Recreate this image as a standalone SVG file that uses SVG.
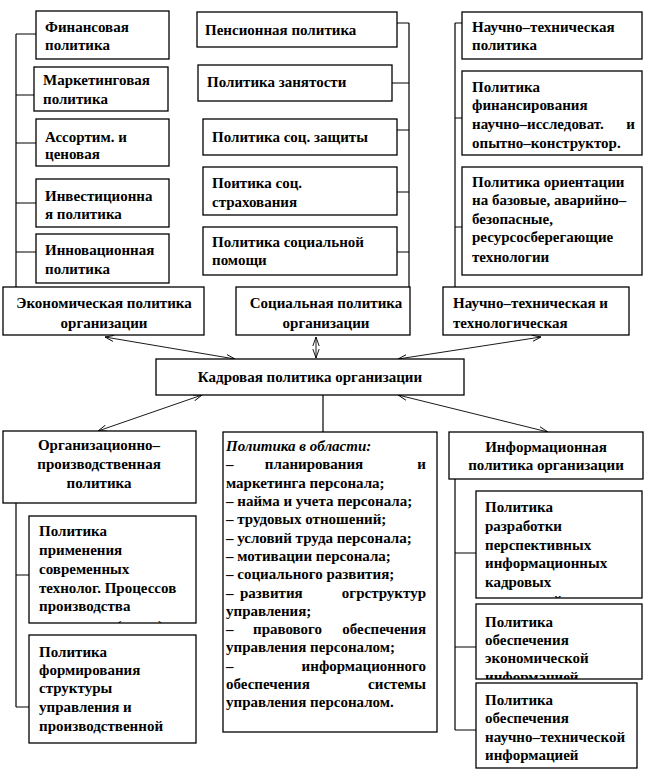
<svg xmlns="http://www.w3.org/2000/svg" width="646" height="771" viewBox="0 0 646 771">
<style>
.b{fill:#fff;stroke:#000;stroke-width:1.3}
.t{font-family:"Liberation Serif","Times New Roman",serif;font-weight:bold;font-size:15px;fill:#000}
.c{text-anchor:middle}
.e{text-anchor:end}
.i{font-style:italic}
.ln{fill:none;stroke:#000;stroke-width:1.2}
.ar{fill:none;stroke:#000;stroke-width:0.9;marker-start:url(#ah);marker-end:url(#ah)}
</style>
<defs>
<marker id="ah" viewBox="0 0 10 10" refX="10" refY="5" markerWidth="9" markerHeight="9" orient="auto-start-reverse" markerUnits="userSpaceOnUse"><path d="M0,1.5 L10,5 L0,8.5" fill="none" stroke="#000" stroke-width="1"/></marker>
<clipPath id="cp1"><rect x="29" y="516" width="167" height="107"/></clipPath>
<clipPath id="cp2"><rect x="476" y="491" width="166" height="107"/></clipPath>
<clipPath id="cp3"><rect x="476" y="604" width="166" height="75"/></clipPath>
</defs>
<rect width="646" height="771" fill="#fff"/>

<g id="connectors">
<path class="ln" d="M16,34V287 M16,34H36 M16,95H34 M16,143H36 M16,203H36 M16,252H36"/>
<path class="ln" d="M409,23V287 M397,23H409 M392,83H409 M397,130H409 M397,192H409 M397,252H409"/>
<path class="ln" d="M455,23V287 M455,23H462 M455,118H462 M455,227H462"/>
<path class="ln" d="M323,395V432"/>
<path class="ln" d="M16,503V707 M16,575H29 M16,707H29"/>
<path class="ln" d="M455,479V730 M455,553H476 M455,647H476 M455,730H476"/>
<line class="ar" x1="105" y1="337" x2="235" y2="359"/>
<line class="ar" x1="316" y1="337" x2="316" y2="358"/>
<line class="ar" x1="541" y1="337" x2="398" y2="359"/>
<line class="ar" x1="202" y1="395" x2="98" y2="431"/>
<line class="ar" x1="398" y1="395" x2="548" y2="432"/>
</g>

<g id="n-fin"><rect class="b" x="36" y="11" width="133" height="48"/><text class="t" x="45" y="32">Финансовая</text><text class="t" x="45" y="50">политика</text></g>
<g id="n-mark"><rect class="b" x="34" y="67" width="134" height="44"/><text class="t" x="43" y="85">Маркетинговая</text><text class="t" x="43" y="104">политика</text></g>
<g id="n-assort"><rect class="b" x="36" y="119" width="133" height="47"/><text class="t" x="45" y="142">Ассортим. и</text><text class="t" x="45" y="159">ценовая</text></g>
<g id="n-invest"><rect class="b" x="36" y="179" width="133" height="48"/><text class="t" x="45" y="201">Инвестиционна</text><text class="t" x="45" y="219">я политика</text></g>
<g id="n-innov"><rect class="b" x="36" y="234" width="133" height="49"/><text class="t" x="45" y="255">Инновационная</text><text class="t" x="45" y="274">политика</text></g>

<g id="n-pens"><rect class="b" x="197" y="12" width="200" height="35"/><text class="t" x="205" y="35">Пенсионная политика</text></g>
<g id="n-zan"><rect class="b" x="198" y="65" width="194" height="36"/><text class="t" x="207" y="87">Политика занятости</text></g>
<g id="n-zasch"><rect class="b" x="203" y="119" width="194" height="36"/><text class="t" x="212" y="142">Политика соц. защиты</text></g>
<g id="n-strah"><rect class="b" x="203" y="167" width="194" height="48"/><text class="t" x="212" y="188">Поитика соц.</text><text class="t" x="212" y="207">страхования</text></g>
<g id="n-pom"><rect class="b" x="203" y="227" width="194" height="48"/><text class="t" x="212" y="247">Политика социальной</text><text class="t" x="212" y="265">помощи</text></g>

<g id="n-ntp"><rect class="b" x="462" y="12" width="180" height="47"/><text class="t" x="472" y="32">Научно–техническая</text><text class="t" x="472" y="50">политика</text></g>
<g id="n-finniokr"><rect class="b" x="462" y="71" width="180" height="84"/><text class="t" x="472" y="92">Политика</text><text class="t" x="472" y="110">финансирования</text><text class="t" x="472" y="129">научно–исследоват.</text><text class="t e" x="635" y="129">и</text><text class="t" x="472" y="148">опытно–конструктор.</text></g>
<g id="n-orient"><rect class="b" x="462" y="167" width="180" height="108"/><text class="t" x="472" y="187">Политика ориентации</text><text class="t" x="472" y="205">на базовые, аварийно–</text><text class="t" x="472" y="224">безопасные,</text><text class="t" x="472" y="242">ресурсосберегающие</text><text class="t" x="472" y="262">технологии</text></g>

<g id="n-econ"><rect class="b" x="3" y="287" width="201" height="48"/><text class="t c" x="104" y="308">Экономическая политика</text><text class="t c" x="104" y="328">организации</text></g>
<g id="n-soc"><rect class="b" x="236" y="287" width="174" height="48"/><text class="t c" x="326" y="308">Социальная политика</text><text class="t c" x="326" y="328">организации</text></g>
<g id="n-nt"><rect class="b" x="443" y="287" width="186" height="48"/><text class="t" x="453" y="308">Научно–техническая и</text><text class="t" x="453" y="328">технологическая</text></g>

<g id="n-kadr"><rect class="b" x="156" y="359" width="308" height="36"/><text class="t c" x="310" y="382">Кадровая политика организации</text></g>

<g id="n-org"><rect class="b" x="3" y="431" width="193" height="72"/><text class="t c" x="99" y="450">Организационно–</text><text class="t c" x="99" y="469">производственная</text><text class="t c" x="99" y="488">политика</text></g>
<g id="n-tech"><rect class="b" x="29" y="516" width="167" height="107"/><g clip-path="url(#cp1)"><text class="t" x="39" y="536">Политика</text><text class="t" x="39" y="555">применения</text><text class="t" x="39" y="574">современных</text><text class="t" x="39" y="593">технолог. Процессов</text><text class="t" x="39" y="611">производства</text><text class="t" x="39" y="631">продукции (услуг)</text></g></g>
<g id="n-struct"><rect class="b" x="29" y="635" width="167" height="108"/><text class="t" x="39" y="657">Политика</text><text class="t" x="39" y="675">формирования</text><text class="t" x="39" y="693">структуры</text><text class="t" x="39" y="712">управления и</text><text class="t" x="39" y="731">производственной</text></g>

<g id="n-area"><rect class="b" x="223" y="432" width="214" height="300"/>
<text class="t i" x="226" y="451">Политика в области:</text>
<text class="t" x="226" y="469">–</text><text class="t c" x="314" y="469">планирования</text><text class="t e" x="426" y="469">и</text>
<text class="t" x="226" y="488">маркетинга персонала;</text>
<text class="t" x="226" y="506">– найма и учета персонала;</text>
<text class="t" x="226" y="524">– трудовых  отношений;</text>
<text class="t" x="226" y="543">– условий труда персонала;</text>
<text class="t" x="226" y="561">– мотивации персонала;</text>
<text class="t" x="226" y="579">– социального развития;</text>
<text class="t" x="226" y="598">–</text><text class="t" x="240" y="598">развития</text><text class="t e" x="426" y="598">огрструктур</text>
<text class="t" x="226" y="616">управления;</text>
<text class="t" x="226" y="634">–</text><text class="t" x="253" y="634">правового</text><text class="t e" x="426" y="634">обеспечения</text>
<text class="t" x="226" y="652">управления персоналом;</text>
<text class="t" x="226" y="671">–</text><text class="t e" x="426" y="671">информационного</text>
<text class="t" x="226" y="689">обеспечения</text><text class="t e" x="426" y="689">системы</text>
<text class="t" x="226" y="707">управления персоналом.</text>
</g>

<g id="n-info"><rect class="b" x="449" y="432" width="194" height="47"/><text class="t c" x="546" y="452">Информационная</text><text class="t c" x="546" y="470">политика организации</text></g>
<g id="n-persp"><rect class="b" x="476" y="491" width="166" height="107"/><g clip-path="url(#cp2)"><text class="t" x="485" y="512">Политика</text><text class="t" x="485" y="531">разработки</text><text class="t" x="485" y="550">перспективных</text><text class="t" x="485" y="568">информационных</text><text class="t" x="485" y="587">кадровых</text><text class="t" x="485" y="606">технологий</text></g></g>
<g id="n-econinfo"><rect class="b" x="476" y="604" width="166" height="75"/><g clip-path="url(#cp3)"><text class="t" x="485" y="627">Политика</text><text class="t" x="485" y="645">обеспечения</text><text class="t" x="485" y="663">экономической</text><text class="t" x="485" y="682">информацией</text></g></g>
<g id="n-ntinfo"><rect class="b" x="476" y="683" width="161" height="85"/><text class="t" x="485" y="705">Политика</text><text class="t" x="485" y="723">обеспечения</text><text class="t" x="485" y="742">научно–технической</text><text class="t" x="485" y="760">информацией</text></g>
</svg>
